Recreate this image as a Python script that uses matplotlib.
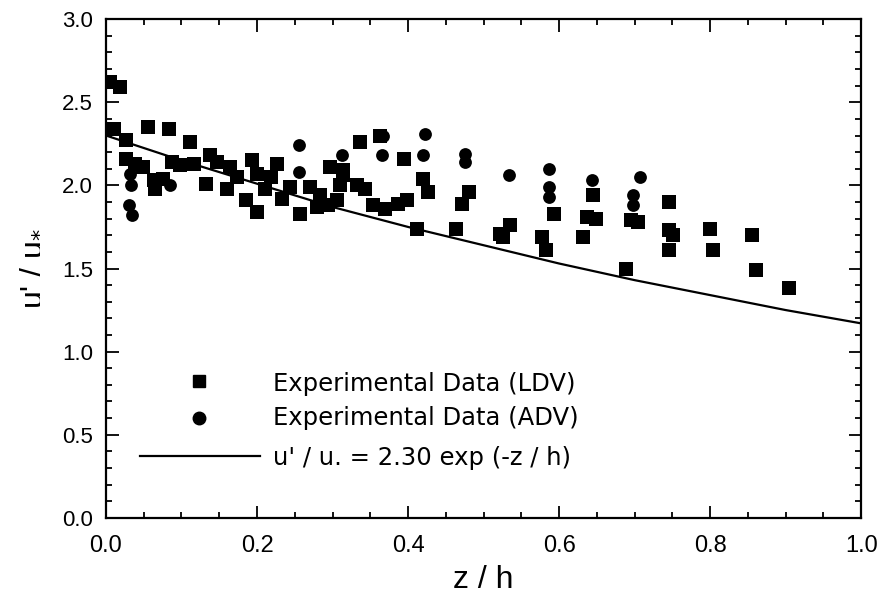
import numpy as np
import matplotlib.pyplot as plt
from matplotlib.ticker import MultipleLocator

plt.rcParams['font.family'] = ['Liberation Sans', 'DejaVu Sans']

# LDV data (squares)
ldv_x = [0.005, 0.019, 0.010, 0.027, 0.055, 0.083, 0.111, 0.027, 0.038, 0.049,
         0.063, 0.065, 0.076, 0.087, 0.098, 0.116, 0.132, 0.138, 0.147, 0.160,
         0.164, 0.173, 0.186, 0.193, 0.200, 0.200, 0.211, 0.219, 0.226, 0.233,
         0.244, 0.257, 0.270, 0.283, 0.279, 0.294, 0.297, 0.306, 0.314, 0.314,
         0.310, 0.332, 0.337, 0.343, 0.354, 0.363, 0.370, 0.387, 0.394, 0.398,
         0.412, 0.420, 0.427, 0.464, 0.471, 0.481, 0.522, 0.526, 0.535, 0.577,
         0.583, 0.593, 0.632, 0.637, 0.645, 0.649, 0.689, 0.695, 0.705, 0.745,
         0.745, 0.751, 0.745, 0.800, 0.804, 0.855, 0.861, 0.905]
ldv_y = [2.62, 2.59, 2.34, 2.27, 2.35, 2.34, 2.26, 2.16, 2.13, 2.11,
         2.03, 1.98, 2.04, 2.14, 2.12, 2.13, 2.01, 2.18, 2.14, 1.98,
         2.11, 2.05, 1.91, 2.15, 1.84, 2.07, 1.98, 2.05, 2.13, 1.92,
         1.99, 1.83, 1.99, 1.94, 1.87, 1.88, 2.11, 1.91, 2.06, 2.09,
         2.00, 2.00, 2.26, 1.98, 1.88, 2.30, 1.86, 1.89, 2.16, 1.91,
         1.74, 2.04, 1.96, 1.74, 1.89, 1.96, 1.71, 1.69, 1.76, 1.69,
         1.61, 1.83, 1.69, 1.81, 1.94, 1.80, 1.50, 1.79, 1.78, 1.90,
         1.73, 1.70, 1.61, 1.74, 1.61, 1.70, 1.49, 1.38]

# ADV data (circles)
adv_x = [0.030, 0.034, 0.033, 0.032, 0.085, 0.255, 0.255, 0.312, 0.367, 0.366,
         0.423, 0.420, 0.476, 0.476, 0.534, 0.587, 0.587, 0.587, 0.643, 0.643,
         0.698, 0.698, 0.707]
adv_y = [1.88, 1.82, 2.00, 2.07, 2.00, 2.24, 2.08, 2.18, 2.30, 2.18,
         2.31, 2.18, 2.19, 2.14, 2.06, 2.10, 1.99, 1.93, 2.03, 1.94,
         1.94, 1.88, 2.05]

# fitted curve
fit_x = [0.0, 0.1, 0.2, 0.3, 0.4, 0.5, 0.6, 0.7, 0.8, 0.9, 1.0]
fit_y = [2.30, 2.15, 2.01, 1.87, 1.75, 1.64, 1.53, 1.43, 1.34, 1.25, 1.17]

labels = ['Experimental Data (LDV)', 'Experimental Data (ADV)',
          "u' / u. = 2.30 exp (-z / h)"]

fig = plt.figure(figsize=(8.86, 5.98), dpi=100)
ax = fig.add_axes([0.1196, 0.134, 0.8524, 0.834])

ax.scatter(ldv_x, ldv_y, marker='s', s=95, color='black', linewidths=0, zorder=3)
ax.scatter(adv_x, adv_y, marker='o', s=85, color='black', linewidths=0, zorder=3)
ax.plot(fit_x, fit_y, color='black', lw=1.6)

ax.set_xlim(0, 1.0)
ax.set_ylim(0, 3.0)
ax.xaxis.set_major_locator(MultipleLocator(0.2))
ax.xaxis.set_minor_locator(MultipleLocator(0.05))
ax.yaxis.set_major_locator(MultipleLocator(0.5))
ax.yaxis.set_minor_locator(MultipleLocator(0.1))
ax.tick_params(which='both', direction='in', top=True, right=True, width=1.3)
ax.tick_params(which='major', length=9)
ax.tick_params(which='minor', length=4.5)
ax.tick_params(axis='x', which='major', labelsize=17, pad=12)
ax.tick_params(axis='y', which='major', labelsize=16, pad=9.5)
ax.xaxis.set_major_formatter(plt.FuncFormatter(lambda v, p: '%.1f' % v))
ax.yaxis.set_major_formatter(plt.FuncFormatter(lambda v, p: '%.1f' % v))
for sp in ax.spines.values():
    sp.set_linewidth(1.6)

ax.set_xlabel('z / h', fontsize=23, labelpad=6)
ax.set_ylabel("u' / u$_{*}$", fontsize=23, labelpad=12)

# legend drawn by hand so the markers sit left of the line centre
ax.plot([0.123], [0.2745], 's', ms=8.5, color='black', transform=ax.transAxes)
ax.plot([0.123], [0.2004], 'o', ms=9, color='black', transform=ax.transAxes)
ax.plot([0.045, 0.204], [0.1242, 0.1242], color='black', lw=1.6,
        transform=ax.transAxes)
for ty, txt in zip([0.2545, 0.1864, 0.1062], labels):
    ax.text(0.221, ty, txt, transform=ax.transAxes, fontsize=17.5,
            family='DejaVu Sans', va='baseline', ha='left')

fig.savefig('out.png', dpi=100)
